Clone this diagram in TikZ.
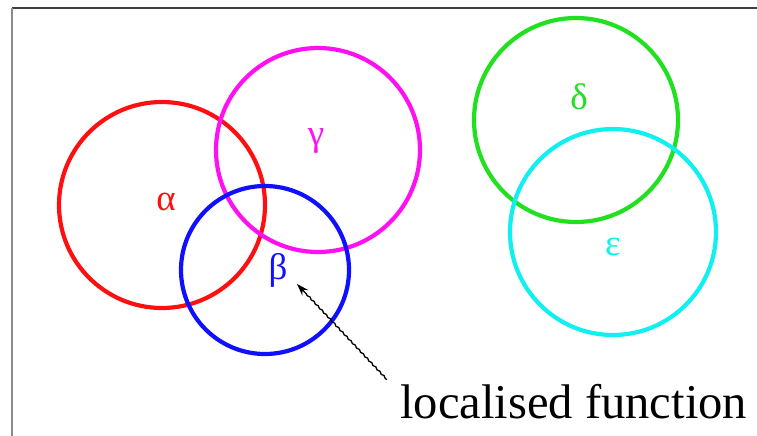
\documentclass[tikz,border=0pt]{standalone}
\usepackage{fontspec}
\setmainfont{Liberation Serif}
\usetikzlibrary{arrows.meta, decorations.pathmorphing}
\definecolor{cRed}{HTML}{FF1010}
\definecolor{cMagenta}{HTML}{FF10F0}
\definecolor{cBlue}{HTML}{1010FF}
\definecolor{cGreen}{HTML}{20E020}
\definecolor{cCyan}{HTML}{10F0F0}

\begin{document}
\begin{tikzpicture}[x=1pt, y=-1pt, >=Stealth,
      set/.style={circle, draw, line width=4.2pt, inner sep=0pt},
      glbl/.style={font=\rmfamily\fontsize{37}{37}\selectfont, inner sep=0pt},
      frame/.style={line width=1.6pt}]
    \useasboundingbox (0,0) rectangle (757,436);
    \draw[frame, black!75] (757,8) -- (12,8);
    \draw[frame, black!45] (12,8) -- (12,436);
    % the five sets
    \foreach \n/\c/\x/\y/\r in {alpha/cRed/162/205/103, gamma/cMagenta/318/150/102,
        beta/cBlue/265/270/84, delta/cGreen/576/120/102, eps/cCyan/613/232/103}
      \node[set, draw=\c, minimum size=2*\r] (\n) at (\x,\y) {};
    \node[glbl, cRed]     (la) at (166,202) {α};
    \node[glbl, cMagenta] (lg) at (316,141) {γ};
    \node[glbl, cBlue]    (lb) at (278,270) {β};
    \node[glbl, cGreen]   (ld) at (579,97)  {δ};
    \node[glbl, cCyan]    (le) at (613,247) {ε};
    % pointer to the overlap
    \node[anchor=base west, font=\rmfamily\fontsize{48.6}{49}\selectfont, inner sep=0pt] (fn) at (400,418) {localised function};
    \coordinate (tip) at (297,284);
    \draw[-{Stealth[length=12pt, width=8pt]}, line width=1.3pt, decorate,
          decoration={snake, amplitude=0.6pt, segment length=6pt, post length=12pt}]
      (fn.north west) ++(-13,-4) -- (tip);
  \end{tikzpicture}
\end{document}
